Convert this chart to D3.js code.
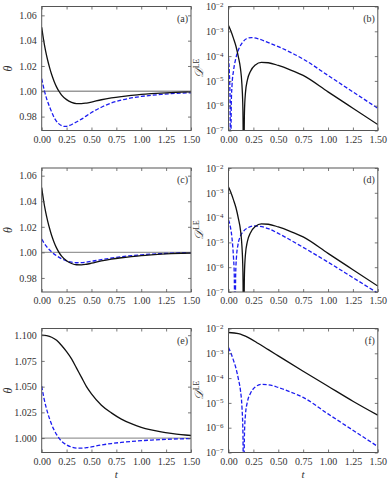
<!DOCTYPE html>
<html><head><meta charset="utf-8">
<script src="https://cdn.jsdelivr.net/npm/d3@7/dist/d3.min.js"></script>
<style>body{margin:0;background:#fff}svg{display:block}</style>
</head><body>
<svg id="c" width="390" height="481"></svg>
<script>
// ---------- data ----------
const tTicks = [0, 0.25, 0.5, 0.75, 1.0, 1.25, 1.5];
const thetaTicks12 = [0.98, 1.00, 1.02, 1.04, 1.06];
const thetaTicks3 = [1.000, 1.025, 1.050, 1.075, 1.100];
const dTicks = [1e-2, 1e-3, 1e-4, 1e-5, 1e-6, 1e-7];
const panelLetters = ["(a)", "(b)", "(c)", "(d)", "(e)", "(f)"];

// theta curve S1 (black in a,c ; blue in e)
const tS1 = [0,0.02,0.04,0.06,0.08,0.1,0.125,0.15,0.175,0.2,0.25,0.3,0.35,0.4,0.45,0.5,0.6,0.7,0.8,0.9,1.0,1.1,1.2,1.3,1.4,1.5];
const thetaS1 = [1.0506,1.040,1.0315,1.0245,1.0185,1.0132,1.0078,1.0033,0.9998,0.9970,0.9934,0.9913,0.9903,0.9902,0.9907,0.9915,0.9933,0.9947,0.9958,0.9967,0.9975,0.9981,0.9986,0.9990,0.9993,0.9995];
// theta blue (a)
const tBlueA = [0,0.015,0.03,0.05,0.084,0.11,0.134,0.165,0.2,0.225,0.25,0.28,0.32,0.4,0.5,0.6,0.7,0.8,0.9,1.0,1.1,1.2,1.3,1.4,1.5];
const thetaBlueA = [1.0099,1.0045,0.9995,0.9940,0.9868,0.9818,0.9780,0.9748,0.9728,0.9722,0.9723,0.9730,0.9745,0.9780,0.9832,0.9874,0.9907,0.9930,0.9947,0.9959,0.9968,0.9975,0.9981,0.9985,0.9988];
// theta blue (c)
const tBlueC = [0,0.025,0.05,0.075,0.1,0.15,0.2,0.25,0.3,0.35,0.4,0.5,0.6,0.75,1.0,1.25,1.5];
const thetaBlueC = [1.0103,1.0072,1.0045,1.0022,1.0003,0.9973,0.9950,0.9933,0.9923,0.9919,0.9920,0.9930,0.9943,0.9961,0.9981,0.9992,0.9997];
// theta black (e)
const tBlackE = [0,0.05,0.1,0.15,0.2,0.25,0.3,0.35,0.4,0.45,0.5,0.6,0.7,0.8,0.9,1.0,1.1,1.2,1.3,1.4,1.5];
const thetaBlackE = [1.100,1.0995,1.098,1.095,1.090,1.084,1.077,1.068,1.059,1.050,1.043,1.032,1.0245,1.0185,1.014,1.0105,1.008,1.006,1.0045,1.0033,1.0025];

// D^LE curve S1 (black in b,d ; blue in f)
const tD1 = [0,0.025,0.05,0.075,0.1,0.12,0.135,0.145,0.152,0.16,0.17,0.19,0.22,0.27,0.33,0.4,0.5,0.62,0.75,1.0,1.25,1.5];
const dS1 = [1.7e-3,1.0e-3,5.2e-4,2.5e-4,8.9e-5,3.2e-5,7e-6,6.3e-7,1e-9,5e-7,3.2e-6,1.1e-5,2.4e-5,4.4e-5,5.6e-5,5.4e-5,4.2e-5,2.8e-5,1.66e-5,3.6e-6,7.9e-7,1.74e-7];
// D^LE blue (b)
const tDBlueB = [0,0.008,0.015,0.021,0.028,0.035,0.05,0.07,0.1,0.14,0.18,0.23,0.3,0.4,0.5,0.75,1.0,1.25,1.5];
const dBlueB = [9e-5,2.5e-5,2.5e-6,1e-9,1.26e-6,6.3e-6,2.5e-5,7e-5,1.8e-4,3.5e-4,5e-4,5.6e-4,5e-4,3.5e-4,2.4e-4,7.6e-5,1.66e-5,3.6e-6,7.9e-7];
// D^LE blue (d)
const tDBlueD = [0,0.02,0.035,0.05,0.058,0.065,0.072,0.08,0.095,0.12,0.15,0.2,0.25,0.3,0.4,0.5,0.75,1.0,1.25,1.5];
const dBlueD = [8e-5,4e-5,1.5e-5,2.5e-6,5e-7,1e-9,5e-7,2.5e-6,8e-6,1.8e-5,2.8e-5,4.0e-5,4.6e-5,4.5e-5,3.6e-5,2.3e-5,6.3e-6,1.6e-6,3.8e-7,9e-8];
// D^LE black (f)
const tDBlackF = [0,0.1,0.2,0.3,0.4,0.5,0.75,1.0,1.25,1.5];
const dBlackF = [6.9e-3,6.2e-3,4.3e-3,2.5e-3,1.4e-3,7.9e-4,1.9e-4,4.7e-5,1.17e-5,3.2e-6];

// ---------- layout ----------
const svg = d3.select("#c");
const colX = [41.7, 228.5], pw = 149.3;
const rowY = [6.5, 168, 328.5], ph = 124;
const FONT = "'Liberation Serif', 'DejaVu Serif', serif";
const frameCol = "#555", textCol = "#333";
const blackCol = "#111", blueCol = "#1c1cf0", refCol = "#999";

const x = d3.scaleLinear().domain([0, 1.5]).range([0, pw]);
const zip = (ts, vs) => ts.map((t, i) => [t, vs[i]]);

const panels = [
  {r:0,c:0,type:"theta",dom:[0.969,1.067],ticks:thetaTicks12,fmt:".2f",series:[[zip(tBlueA,thetaBlueA),"blue"],[zip(tS1,thetaS1),"black"]]},
  {r:0,c:1,type:"d",series:[[zip(tDBlueB,dBlueB),"blue"],[zip(tD1,dS1),"black"]]},
  {r:1,c:0,type:"theta",dom:[0.969,1.066],ticks:thetaTicks12,fmt:".2f",series:[[zip(tBlueC,thetaBlueC),"blue"],[zip(tS1,thetaS1),"black"]]},
  {r:1,c:1,type:"d",series:[[zip(tDBlueD,dBlueD),"blue"],[zip(tD1,dS1),"black"]]},
  {r:2,c:0,type:"theta",dom:[0.986,1.1065],ticks:thetaTicks3,fmt:".3f",series:[[zip(tS1,thetaS1),"blue"],[zip(tBlackE,thetaBlackE),"black"]]},
  {r:2,c:1,type:"d",series:[[zip(tD1,dS1),"blue"],[zip(tDBlackF,dBlackF),"black"]]}
];

panels.forEach((p, i) => {
  const g = svg.append("g").attr("transform", `translate(${colX[p.c]},${rowY[p.r]})`);
  const y = p.type === "theta"
    ? d3.scaleLinear().domain(p.dom).range([ph, 0])
    : d3.scaleLog().domain([1e-7, 1e-2]).range([ph, 0]);
  const clipId = "clip" + i;
  g.append("clipPath").attr("id", clipId).append("rect").attr("width", pw).attr("height", ph);
  const plot = g.append("g").attr("clip-path", `url(#${clipId})`);

  if (p.type === "theta") {
    plot.append("line").attr("x1", 0).attr("x2", pw).attr("y1", y(1)).attr("y2", y(1))
      .attr("stroke", refCol).attr("stroke-width", 1.4);
  }
  const line = d3.line()
    .x(d => x(d[0]))
    .y(d => p.type === "theta" ? y(d[1]) : y(Math.max(d[1], 1e-12)))
    .curve(d3.curveMonotoneX);
  p.series.forEach(([data, col]) => {
    plot.append("path").datum(data).attr("d", line).attr("fill", "none")
      .attr("stroke", col === "blue" ? blueCol : blackCol)
      .attr("stroke-width", 1.3)
      .attr("stroke-dasharray", col === "blue" ? "4,2" : null);
  });

  // axes (inward ticks)
  const ax = d3.axisBottom(x).tickValues(tTicks).tickFormat(d3.format(".2f")).tickSize(-3).tickPadding(5);
  const axT = d3.axisTop(x).tickValues(tTicks).tickFormat("").tickSize(-3);
  const yVals = p.type === "theta" ? p.ticks : dTicks;
  const ay = d3.axisLeft(y).tickValues(yVals).tickSize(-3).tickPadding(5)
    .tickFormat(p.type === "theta" ? d3.format(p.fmt) : d => "");
  const ayR = d3.axisRight(y).tickValues(yVals).tickFormat("").tickSize(-3);

  const styleAxis = sel => {
    sel.select(".domain").remove();
    sel.selectAll(".tick line").attr("stroke", frameCol).attr("stroke-width", 0.8);
    sel.selectAll("text").attr("fill", textCol).style("font-family", FONT).style("font-size", "10px");
  };
  g.append("g").attr("transform", `translate(0,${ph})`).call(ax).call(styleAxis);
  g.append("g").call(axT).call(styleAxis);
  const gy = g.append("g").call(ay).call(styleAxis);
  g.append("g").attr("transform", `translate(${pw},0)`).call(ayR).call(styleAxis);

  if (p.type === "d") {
    gy.selectAll(".tick text").each(function(d) {
      const t = d3.select(this);
      const e = Math.round(Math.log10(d));
      t.text(null);
      t.append("tspan").text("10");
      t.append("tspan").attr("dy", "-0.45em").style("font-size", "7px").text("\u2212" + Math.abs(e));
    });
  }

  g.append("rect").attr("width", pw).attr("height", ph).attr("fill", "none")
    .attr("stroke", frameCol).attr("stroke-width", 1);

  // panel letter
  g.append("text").attr("x", pw - 3).attr("y", 15).attr("text-anchor", "end")
    .style("font-family", FONT).style("font-size", "10px").attr("fill", textCol).text(panelLetters[i]);

  // y label
  if (p.type === "theta") {
    g.append("text").attr("transform", `translate(${-30},${ph/2}) rotate(-90)`)
      .attr("text-anchor", "middle").style("font-family", FONT).style("font-style", "italic")
      .style("font-size", "12px").attr("fill", textCol).text("\u03B8");
  } else {
    const tl = g.append("text").attr("transform", `translate(${-26},${ph/2}) rotate(-90)`)
      .attr("text-anchor", "middle").style("font-family", FONT)
      .style("font-size", "12px").attr("fill", textCol);
    tl.append("tspan").style("font-style", "italic").text("\uD835\uDC9F");
    tl.append("tspan").attr("dy", "-0.45em").style("font-size", "7.5px").text("LE");
  }

  if (p.r === 2) {
    g.append("text").attr("x", pw/2).attr("y", ph + 25).attr("text-anchor", "middle")
      .style("font-family", FONT).style("font-style", "italic").style("font-size", "11px")
      .attr("fill", textCol).text("t");
  }
});
</script>
</body></html>
